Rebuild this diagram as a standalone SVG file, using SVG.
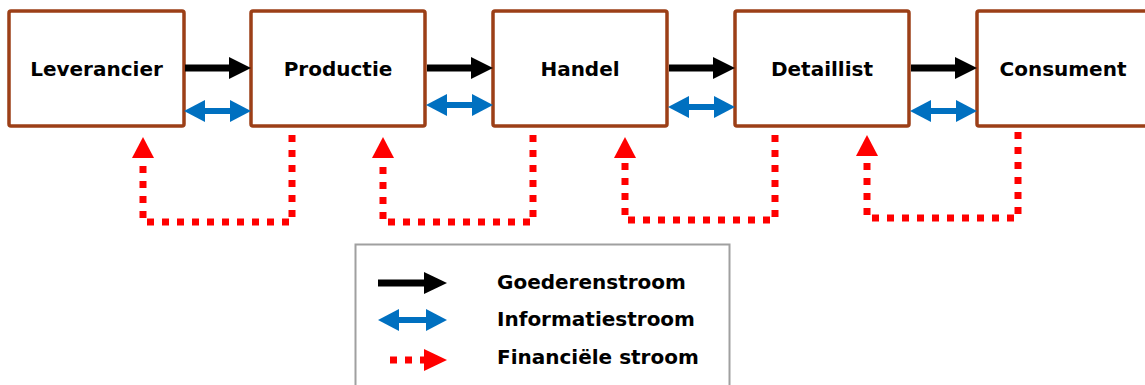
<svg xmlns="http://www.w3.org/2000/svg" width="1145" height="385" viewBox="0 0 1145 385">
<style>
.box{fill:#fff;stroke:#9C3F17;stroke-width:3.5}
.lbl{font-family:"DejaVu Sans",Verdana,sans-serif;font-weight:bold;font-size:20px;fill:#000}
.goods{stroke:#000;stroke-width:7;fill:none}
.info{stroke:#0070C0;stroke-width:6;fill:none}
.fin{stroke:#FF0000;stroke-width:7;fill:none;stroke-dasharray:7 8}
.hb{fill:#000}.hi{fill:#0070C0}.hr{fill:#FF0000}
</style>
<rect width="1145" height="385" fill="#fff"/>
<g id="n-leverancier"><rect class="box" x="9" y="11" width="175" height="115" rx="2"/><text class="lbl" x="96.5" y="76" text-anchor="middle">Leverancier</text></g>
<g id="n-productie"><rect class="box" x="251" y="11" width="174" height="115" rx="2"/><text class="lbl" x="338" y="76" text-anchor="middle">Productie</text></g>
<g id="n-handel"><rect class="box" x="493" y="11" width="174" height="115" rx="2"/><text class="lbl" x="580" y="76" text-anchor="middle">Handel</text></g>
<g id="n-detaillist"><rect class="box" x="735" y="11" width="174" height="115" rx="2"/><text class="lbl" x="822" y="76" text-anchor="middle">Detaillist</text></g>
<g id="n-consument"><rect class="box" x="977" y="11" width="175" height="115" rx="2"/><text class="lbl" x="1063" y="76" text-anchor="middle">Consument</text></g>
<g id="connectors">
<g id="goods">
<line class="goods" x1="185" y1="68" x2="231" y2="68"/><polygon class="hb" points="229,57 251,68 229,79"/>
<line class="goods" x1="427" y1="68" x2="473" y2="68"/><polygon class="hb" points="471,57 493,68 471,79"/>
<line class="goods" x1="669" y1="68" x2="715" y2="68"/><polygon class="hb" points="713,57 735,68 713,79"/>
<line class="goods" x1="911" y1="68" x2="957" y2="68"/><polygon class="hb" points="955,57 977,68 955,79"/>
</g>
<g id="info">
<line class="info" x1="203" y1="111" x2="232" y2="111"/><polygon class="hi" points="205,100 184,111 205,122"/><polygon class="hi" points="230,100 251,111 230,122"/>
<line class="info" x1="445" y1="105" x2="474" y2="105"/><polygon class="hi" points="447,94 426,105 447,116"/><polygon class="hi" points="472,94 493,105 472,116"/>
<line class="info" x1="687" y1="107" x2="716" y2="107"/><polygon class="hi" points="689,96 668,107 689,118"/><polygon class="hi" points="714,96 735,107 714,118"/>
<line class="info" x1="929" y1="111" x2="958" y2="111"/><polygon class="hi" points="931,100 910,111 931,122"/><polygon class="hi" points="956,100 977,111 956,122"/>
</g>
<g id="finance">
<path class="fin" d="M292,135 V222 H143 V160"/><polygon class="hr" points="132,158 143,137 154,158"/>
<path class="fin" d="M533,135 V222 H383 V160"/><polygon class="hr" points="372,158 383,137 394,158"/>
<path class="fin" d="M775,135 V220 H625 V160"/><polygon class="hr" points="614,158 625,137 636,158"/>
<path class="fin" d="M1018,132 V218 H867 V160"/><polygon class="hr" points="856,156 867,135 878,156"/>
</g>
</g>
<g id="legend">
<rect x="355.5" y="244.5" width="374" height="150" fill="#fff" stroke="#A0A0A0" stroke-width="2"/>
<line class="goods" x1="378" y1="283" x2="426" y2="283"/><polygon class="hb" points="424,272 447,283 424,294"/>
<line class="info" x1="395" y1="320" x2="430" y2="320"/><polygon class="hi" points="399,309 378,320 399,331"/><polygon class="hi" points="426,309 447,320 426,331"/>
<line class="fin" x1="390" y1="360" x2="425" y2="360"/><polygon class="hr" points="424,349 447,360 424,371"/>
<text class="lbl" x="497" y="289">Goederenstroom</text>
<text class="lbl" x="497" y="326">Informatiestroom</text>
<text class="lbl" x="497" y="364">Financiële stroom</text>
</g>
</svg>
